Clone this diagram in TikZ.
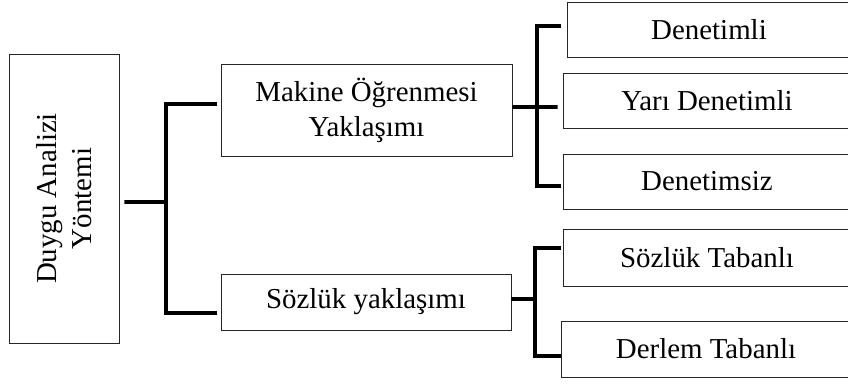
\documentclass[tikz,border=0pt]{standalone}
\usepackage{fontspec}
\setmainfont{Liberation Serif}
\begin{document}
\begin{tikzpicture}[x=1bp,y=-1bp,
    box/.style={draw=black!85,line width=0.9bp,inner sep=0pt,align=center,
        font=\fontsize{29}{35}\selectfont},
    conn/.style={line width=3.6bp,black}]
    \useasboundingbox (0,0) rectangle (848,383);
    \node[box,rotate=90,minimum width=289bp,minimum height=110bp] (root) at (64,198.5) {Duygu Analizi\\Yöntemi};
    \node[box,minimum width=291bp,minimum height=92bp] (mak) at (366.5,110) {Makine Öğrenmesi\\Yaklaşımı};
    \node[box,minimum width=290bp,minimum height=56bp] (soz) at (366,302) {Sözlük yaklaşımı};
    \node[box,minimum width=284bp,minimum height=55bp] (den) at (709,29.5) {Denetimli};
    \node[box,minimum width=288bp,minimum height=55bp] (yari) at (707,100.5) {Yarı Denetimli};
    \node[box,minimum width=288bp,minimum height=55bp] (dnz) at (707,181.5) {Denetimsiz};
    \node[box,minimum width=288bp,minimum height=57bp] (stab) at (707,257.5) {Sözlük Tabanlı};
    \node[box,minimum width=290bp,minimum height=56bp] (dtab) at (706,349) {Derlem Tabanlı};
    \coordinate (b1) at (166,202);
    \coordinate (b2) at (537,107);
    \coordinate (b3) at (535,299);
    \draw[conn] ([shift={(5,3.5)}]root.south) -- (b1);
    \draw[conn] ([shift={(-4,-6)}]mak.west) -| (b1) |- ([shift={(-4,11)}]soz.west);
    \draw[conn] ([yshift=3bp]mak.east) -- ([shift={(-5,6.5)}]yari.west);
    \draw[conn] ([shift={(-6,-3.5)}]den.west) -| (b2) |- ([shift={(-2,4.5)}]dnz.west);
    \draw[conn] ([yshift=3bp]soz.east) -- (b3);
    \draw[conn] ([shift={(-2,-9.5)}]stab.west) -| (b3) |- ([shift={(0,7)}]dtab.west);
\end{tikzpicture}
\end{document}
